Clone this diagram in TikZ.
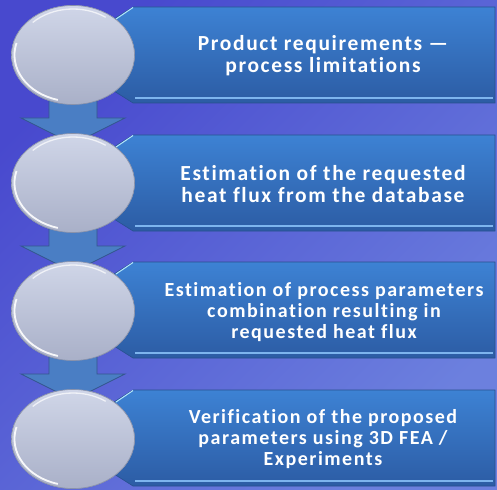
\documentclass[tikz,border=0pt]{standalone}
\usepackage{fontspec}
\setmainfont{Carlito}[Ligatures=NoCommon]
\usetikzlibrary{shapes.geometric,calc}

\definecolor{bgA}{HTML}{4849CE}
\definecolor{bgB}{HTML}{6C80DE}
\definecolor{boxTop}{HTML}{3D82D4}
\definecolor{boxBot}{HTML}{2C5CA4}
\definecolor{boxEdge}{HTML}{28508F}
\definecolor{boxGlow}{HTML}{7DB4EE}
\definecolor{ballTop}{HTML}{D0D6E8}
\definecolor{ballBot}{HTML}{A9B0C8}
\definecolor{ballEdge}{HTML}{8A92AA}
\definecolor{arrFill}{HTML}{4A7EC4}
\definecolor{arrEdge}{HTML}{34568E}

\tikzset{
  ball/.style={ellipse, minimum width=123pt, minimum height=99pt, inner sep=0pt,
    top color=ballTop, bottom color=ballBot, draw=ballEdge, line width=0.6pt},
  banner/.style={top color=boxTop, bottom color=boxBot, draw=boxEdge, line width=0.6pt},
  glow/.style={boxGlow, line width=2.2pt},
  flow/.style={fill=arrFill, draw=arrEdge, line width=0.8pt, line join=miter},
  label/.style={text=white, align=center, inner sep=0pt},
  big/.style={label, font=\fontsize{21.5}{22}\selectfont\bfseries\addfontfeatures{LetterSpace=7.5}},
  small/.style={label, font=\fontsize{20}{20.7}\selectfont\bfseries\addfontfeatures{LetterSpace=7.5}},
}

\begin{document}
\begin{tikzpicture}[x=1pt,y=-1pt]
  % page background
  \shade[top color=bgA, bottom color=bgB, shading angle=45] (0,0) rectangle (497,489);
  \useasboundingbox (0,0) rectangle (497,489);

  % banners behind the balls
  \foreach \t in {7,135,262,390} {
    \path[banner] (133,\t) -- (495,\t) -- (495,\t+96) -- (133,\t+96)
      -- (114,\t+84) -- (114,\t+12) -- cycle;
    \draw[glow] (135,\t+91) -- (493,\t+91);
    \draw[white!70!cyan, line width=1pt] (133,\t+0.5) -- (116,\t+12);
  }

  % the four balls (anchors for the arrows)
  \node[ball] (c1) at (73,55)  {};
  \node[ball] (c2) at (73,183) {};
  \node[ball] (c3) at (73,311) {};
  \node[ball] (c4) at (73,439) {};

  % block arrows from each ball to the next
  \foreach \a/\b in {c1/c2,c2/c3,c3/c4} {
    \path[flow] ($(\a.center)+(-24,30)$) -- ($(\a.center)+(24,30)$)
      -- ($(\a.center)+(24,63)$) -- ($(\a.center)+(52,63)$)
      -- ($(\b.center)+(0,-39)$) -- ($(\a.center)+(-52,63)$)
      -- ($(\a.center)+(-24,63)$) -- cycle;
  }

  % balls again over the arrows, with rim highlights
  \foreach \c in {c1,c2,c3,c4} {
    \node[ball] at (\c.center) {};
    \draw[white, line width=1.8pt, opacity=0.9]
      ($(\c.center)+(105:58.5 and 46.5)$) arc[start angle=105, end angle=195, x radius=58.5, y radius=46.5];
    \draw[white, line width=1.3pt, opacity=0.7]
      ($(\c.center)+(225:57 and 46)$) arc[start angle=225, end angle=305, x radius=57, y radius=46];
  }

  % step texts
  \node[big]   (t1) at (323,56)  {Product requirements —\\process limitations};
  \node[big]   (t2) at (323,184) {Estimation of the requested\\heat flux from the database};
  \node[small] (t3) at (324,312) {Estimation of process parameters\\combination resulting in\\requested heat flux};
  \node[small] (t4) at (323,439) {Verification of the proposed\\parameters using 3D FEA /\\Experiments};
\end{tikzpicture}
\end{document}
